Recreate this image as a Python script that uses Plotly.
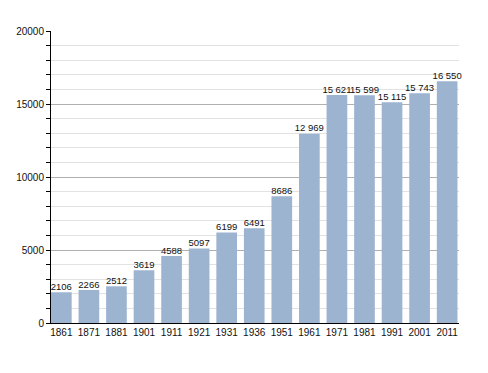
import plotly.graph_objects as go

years = ["1861", "1871", "1881", "1901", "1911", "1921", "1931", "1936",
         "1951", "1961", "1971", "1981", "1991", "2001", "2011"]
population = [2106, 2266, 2512, 3619, 4588, 5097, 6199, 6491,
              8686, 12969, 15621, 15599, 15115, 15743, 16550]
y_ticks = [0, 5000, 10000, 15000, 20000]


def fmt(v):
    return f"{v:,}".replace(",", " ") if v >= 10000 else str(v)


labels = [fmt(v) for v in population]
xpos = list(range(len(years)))
FONT = "Liberation Sans, Arial"

fig = go.Figure()
fig.add_trace(go.Bar(
    x=xpos, y=population, width=0.75,
    marker=dict(color="#9db4d1", line=dict(width=0)),
    hoverinfo="skip",
))
fig.add_trace(go.Scatter(
    x=xpos, y=population, mode="text", text=labels,
    textposition="top center", cliponaxis=False, hoverinfo="skip",
    textfont=dict(family=FONT, size=9.5, color="#111"),
))

fig.update_layout(
    width=488, height=373,
    margin=dict(l=51, r=29, t=31, b=50),
    paper_bgcolor="white", plot_bgcolor="white",
    showlegend=False,
    font=dict(family=FONT, size=10, color="#111"),
)
fig.update_xaxes(
    tickmode="array", tickvals=xpos, ticktext=years,
    range=[-0.375, 14.43], automargin=False,
    showline=True, linecolor="black", linewidth=1,
    showgrid=False, ticks="", zeroline=False,
)
fig.update_yaxes(
    range=[0, 20000], tickmode="array", tickvals=y_ticks,
    ticktext=[str(v) for v in y_ticks], automargin=False,
    showline=True, linecolor="black", linewidth=1,
    ticks="outside", ticklen=4, tickcolor="black",
    showgrid=True, gridcolor="#b0b0b0", gridwidth=1,
    zeroline=False,
    minor=dict(dtick=1000, showgrid=True, gridcolor="#e2e2e2",
               ticks="outside", ticklen=4, tickcolor="black"),
)

fig.write_html(
    "out.html",
    config={"displayModeBar": False},
    post_script="document.body.style.margin='0';document.body.style.padding='0';",
)
